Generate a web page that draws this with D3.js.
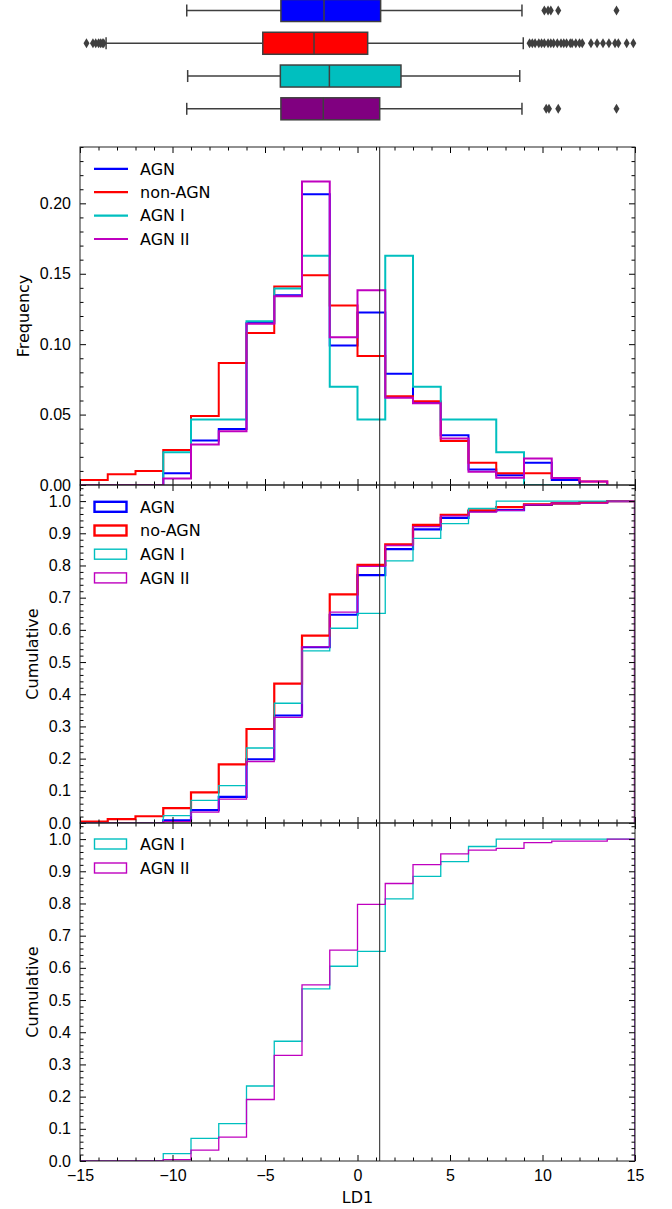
<!DOCTYPE html>
<html>
<head>
<meta charset="utf-8">
<script src="https://cdn.jsdelivr.net/npm/d3@7"></script>
<style>
  body { margin: 0; background: #fff; }
  svg { display: block; font-family: "DejaVu Sans", sans-serif; }
  .tick text { font-size: 16px; fill: #000; }
  .tick line { stroke: #000; stroke-width: 1; }
</style>
</head>
<body>
<svg id="chart"></svg>
<script>
// ---- data ----
const categories = ["AGN", "non-AGN", "AGN I", "AGN II"];
const binEdges = [-15, -13.5, -12, -10.5, -9, -7.5, -6, -4.5, -3, -1.5, 0,
                  1.5, 3, 4.5, 6, 7.5, 9, 10.5, 12, 13.5, 15];
const cutLD1 = 1.2;

// frequency histogram (bins -15 .. 13.5)
const freqAGN    = [0, 0, 0, 0.0083, 0.0316, 0.0397, 0.115, 0.1348, 0.2065, 0.099, 0.1225, 0.079, 0.0585, 0.0354, 0.011, 0.007, 0.0158, 0.0035, 0];
const freqNonAGN = [0.0035, 0.0076, 0.0099, 0.0248, 0.049, 0.0866, 0.108, 0.141, 0.149, 0.1275, 0.0916, 0.063, 0.0595, 0.0312, 0.0158, 0.0083, 0.0083, 0.005, 0.0024];
const freqAGN1   = [0, 0, 0, 0.0233, 0.0465, 0.0465, 0.1163, 0.1395, 0.1628, 0.0698, 0.0465, 0.1628, 0.0698, 0.0465, 0.0465, 0.0233, 0, 0, 0];
const freqAGN2   = [0, 0, 0, 0.0047, 0.0288, 0.0382, 0.1145, 0.134, 0.2155, 0.105, 0.1383, 0.062, 0.058, 0.033, 0.0094, 0.0052, 0.0189, 0.005, 0.0024];

// cumulative (bins -15 .. 15)
const cumAGN    = [0, 0, 0, 0.008, 0.040, 0.081, 0.198, 0.334, 0.546, 0.647, 0.770, 0.851, 0.912, 0.948, 0.969, 0.972, 0.988, 0.993, 0.996, 1.0];
const cumNonAGN = [0.004, 0.012, 0.021, 0.046, 0.095, 0.182, 0.292, 0.433, 0.582, 0.710, 0.802, 0.866, 0.926, 0.957, 0.971, 0.981, 0.990, 0.993, 0.996, 1.0];
const cumAGN1   = [0, 0, 0, 0.023, 0.070, 0.116, 0.233, 0.372, 0.535, 0.605, 0.651, 0.814, 0.884, 0.930, 0.977, 1, 1, 1, 1, 1];
const cumAGN2   = [0, 0, 0, 0.004, 0.034, 0.074, 0.191, 0.328, 0.547, 0.655, 0.797, 0.862, 0.921, 0.954, 0.966, 0.971, 0.989, 0.994, 0.994, 1.0];

// box plots
const boxLow    = [-9.23, -13.59, -9.18, -9.23];
const boxQ1     = [-4.14, -5.12, -4.17, -4.14];
const boxMedian = [-1.81, -2.35, -1.52, -1.85];
const boxQ3     = [1.25, 0.55, 2.35, 1.2];
const boxHigh   = [8.89, 8.96, 8.77, 8.89];
const outAGN    = [10.1, 10.3, 10.45, 10.85, 14.0];
const outNonAGN = [-14.65, -14.3, -14.15, -14.0, -13.9, -13.8, -13.72,
                   9.3, 9.45, 9.6, 9.8, 9.95, 10.1, 10.3, 10.45, 10.6, 10.8, 11.0, 11.15,
                   11.3, 11.5, 11.6, 11.8, 12.0, 12.15, 12.62, 12.95, 13.27, 13.59, 13.92,
                   14.1, 14.55, 14.91];
const outAGN1   = [];
const outAGN2   = [10.2, 10.35, 10.85, 14.0];

const xTicks = [-15, -10, -5, 0, 5, 10, 15];
const freqTicks = [0, 0.05, 0.10, 0.15, 0.20];
const cumTicks = [0, 0.1, 0.2, 0.3, 0.4, 0.5, 0.6, 0.7, 0.8, 0.9, 1.0];

// ---- layout ----
const width = 672, height = 1209;
const left = 80, right = 635;
const fontSize = "16px";
const lineColors = {"AGN": "#0000ff", "non-AGN": "#ff0000", "AGN I": "#00bfbf", "AGN II": "#bf00bf"};
const boxColors = ["#0000ff", "#ff0000", "#00bfbf", "#800080"];
const edgeGray = "#3f3f3f";

const svg = d3.select("#chart").attr("width", width).attr("height", height);

const x = d3.scaleLinear().domain([-15, 15]).range([left, right]);

// ---- box plots ----
const yBox = d3.scalePoint().domain(categories).range([10.5, 108.8]);
const boxH = 22, capH = 12;
const outliers = [outAGN, outNonAGN, outAGN1, outAGN2];

categories.forEach((c, i) => {
    const g = svg.append("g");
    const cy = yBox(c);
    g.append("line")
        .attr("x1", x(boxLow[i])).attr("x2", x(boxQ1[i]))
        .attr("y1", cy).attr("y2", cy)
        .attr("stroke", edgeGray).attr("stroke-width", 1.5);
    g.append("line")
        .attr("x1", x(boxQ3[i])).attr("x2", x(boxHigh[i]))
        .attr("y1", cy).attr("y2", cy)
        .attr("stroke", edgeGray).attr("stroke-width", 1.5);
    [boxLow[i], boxHigh[i]].forEach(v => {
        g.append("line")
            .attr("x1", x(v)).attr("x2", x(v))
            .attr("y1", cy - capH / 2).attr("y2", cy + capH / 2)
            .attr("stroke", edgeGray).attr("stroke-width", 1.5);
    });
    g.append("rect")
        .attr("x", x(boxQ1[i])).attr("y", cy - boxH / 2)
        .attr("width", x(boxQ3[i]) - x(boxQ1[i])).attr("height", boxH)
        .attr("fill", boxColors[i]).attr("stroke", edgeGray).attr("stroke-width", 1.5);
    g.append("line")
        .attr("x1", x(boxMedian[i])).attr("x2", x(boxMedian[i]))
        .attr("y1", cy - boxH / 2).attr("y2", cy + boxH / 2)
        .attr("stroke", edgeGray).attr("stroke-width", 1.5);
    g.selectAll(".flier")
        .data(outliers[i])
        .enter()
        .append("path")
        .attr("class", "flier")
        .attr("d", "M0,-5L3,0L0,5L-3,0Z")
        .attr("transform", d => `translate(${x(d)},${cy})`)
        .attr("fill", edgeGray);
});

// ---- panels ----
function stepPoints(edges, values) {
    const pts = [[edges[0], 0]];
    values.forEach((v, i) => {
        pts.push([edges[i], v]);
        pts.push([edges[i + 1], v]);
    });
    pts.push([edges[values.length], 0]);
    return pts;
}

let clipId = 0;
function drawPanel(opt) {
    const y = d3.scaleLinear().domain(opt.yDomain).range([opt.bottom, opt.top]);
    const g = svg.append("g");
    const id = "clip" + (clipId++);
    svg.append("clipPath").attr("id", id)
        .append("rect")
        .attr("x", left).attr("y", opt.top)
        .attr("width", right - left).attr("height", opt.bottom - opt.top);

    const plot = g.append("g").attr("clip-path", `url(#${id})`);
    const line = d3.line().x(d => x(d[0])).y(d => y(d[1]));

    opt.series.forEach(s => {
        plot.append("path")
            .attr("d", line(stepPoints(opt.edges, s.values)))
            .attr("fill", "none")
            .attr("stroke", lineColors[s.key])
            .attr("stroke-width", s.width);
    });

    plot.append("line")
        .attr("x1", x(cutLD1)).attr("x2", x(cutLD1))
        .attr("y1", opt.top).attr("y2", opt.bottom)
        .attr("stroke", "#222").attr("stroke-width", 1);

    // ticks (inward on all four sides)
    const xMinor = d3.range(-15, 15.01, 1).filter(v => v % 5 !== 0);
    const yMinor = d3.range(opt.yDomain[0], opt.yDomain[1] + 1e-9, opt.minorStep)
        .filter(v => !opt.yTicks.some(t => Math.abs(t - v) < 1e-9));

    g.append("g")
        .attr("transform", `translate(0,${opt.bottom})`)
        .call(d3.axisBottom(x).tickValues(xTicks).tickSize(-6).tickPadding(9)
            .tickFormat(opt.showX ? d3.format("d") : ""));
    g.append("g").attr("transform", `translate(0,${opt.bottom})`)
        .call(d3.axisBottom(x).tickValues(xMinor).tickSize(-3.5).tickFormat(""));
    g.append("g").attr("transform", `translate(0,${opt.top})`)
        .call(d3.axisTop(x).tickValues(xTicks).tickSize(-6).tickFormat(""));
    g.append("g").attr("transform", `translate(0,${opt.top})`)
        .call(d3.axisTop(x).tickValues(xMinor).tickSize(-3.5).tickFormat(""));

    g.append("g").attr("transform", `translate(${left},0)`)
        .call(d3.axisLeft(y).tickValues(opt.yTicks).tickSize(-6).tickPadding(9)
            .tickFormat(d3.format(opt.yFormat)));
    g.append("g").attr("transform", `translate(${left},0)`)
        .call(d3.axisLeft(y).tickValues(yMinor).tickSize(-3.5).tickFormat(""));
    g.append("g").attr("transform", `translate(${right},0)`)
        .call(d3.axisRight(y).tickValues(opt.yTicks).tickSize(-6).tickFormat(""));
    g.append("g").attr("transform", `translate(${right},0)`)
        .call(d3.axisRight(y).tickValues(yMinor).tickSize(-3.5).tickFormat(""));

    g.selectAll(".domain").remove();

    g.append("rect")
        .attr("x", left).attr("y", opt.top)
        .attr("width", right - left).attr("height", opt.bottom - opt.top)
        .attr("fill", "none").attr("stroke", "#222").attr("stroke-width", 1);

    // y label
    g.append("text")
        .attr("transform", `translate(${opt.ylabelX},${(opt.top + opt.bottom) / 2}) rotate(-90)`)
        .attr("text-anchor", "middle")
        .attr("dy", "0.35em")
        .style("font-size", fontSize)
        .text(opt.ylabel);

    // legend
    const lg = g.append("g");
    opt.legend.forEach((item, i) => {
        const ly = opt.legendTop + i * opt.legendStep;
        if (opt.legendType === "line") {
            lg.append("line")
                .attr("x1", 94).attr("x2", 128)
                .attr("y1", ly).attr("y2", ly)
                .attr("stroke", lineColors[item.key]).attr("stroke-width", item.width);
        } else {
            lg.append("rect")
                .attr("x", 94.5).attr("y", ly - 5)
                .attr("width", 32).attr("height", 10)
                .attr("fill", "none")
                .attr("stroke", lineColors[item.key]).attr("stroke-width", item.width);
        }
        lg.append("text")
            .attr("x", 140).attr("y", ly)
            .attr("dy", "0.36em")
            .style("font-size", fontSize)
            .text(item.label);
    });
    return y;
}

const histEdges = binEdges.slice(0, freqAGN.length + 1);

drawPanel({
    top: 147, bottom: 485, yDomain: [0, 0.24], yTicks: freqTicks, minorStep: 0.01,
    yFormat: ".2f", showX: false, edges: histEdges,
    series: [
        {key: "AGN", values: freqAGN, width: 2},
        {key: "non-AGN", values: freqNonAGN, width: 2},
        {key: "AGN I", values: freqAGN1, width: 2},
        {key: "AGN II", values: freqAGN2, width: 2}
    ],
    legendType: "line", legendTop: 168.8, legendStep: 23.4,
    legend: [
        {key: "AGN", label: "AGN", width: 2.2},
        {key: "non-AGN", label: "non-AGN", width: 2.2},
        {key: "AGN I", label: "AGN I", width: 2.2},
        {key: "AGN II", label: "AGN II", width: 2.2}
    ],
    ylabel: "Frequency", ylabelX: 23
});

drawPanel({
    top: 485, bottom: 823, yDomain: [0, 1.05], yTicks: cumTicks, minorStep: 0.02,
    yFormat: ".1f", showX: false, edges: binEdges,
    series: [
        {key: "AGN", values: cumAGN, width: 2.2},
        {key: "non-AGN", values: cumNonAGN, width: 2.2},
        {key: "AGN I", values: cumAGN1, width: 1.3},
        {key: "AGN II", values: cumAGN2, width: 1.3}
    ],
    legendType: "patch", legendTop: 506.8, legendStep: 23.7,
    legend: [
        {key: "AGN", label: "AGN", width: 2.4},
        {key: "non-AGN", label: "no-AGN", width: 2.4},
        {key: "AGN I", label: "AGN I", width: 1.4},
        {key: "AGN II", label: "AGN II", width: 1.4}
    ],
    ylabel: "Cumulative", ylabelX: 32
});

drawPanel({
    top: 823, bottom: 1161, yDomain: [0, 1.05], yTicks: cumTicks, minorStep: 0.02,
    yFormat: ".1f", showX: true, edges: binEdges,
    series: [
        {key: "AGN I", values: cumAGN1, width: 1.3},
        {key: "AGN II", values: cumAGN2, width: 1.3}
    ],
    legendType: "patch", legendTop: 844, legendStep: 24,
    legend: [
        {key: "AGN I", label: "AGN I", width: 1.4},
        {key: "AGN II", label: "AGN II", width: 1.4}
    ],
    ylabel: "Cumulative", ylabelX: 32
});

svg.append("text")
    .attr("x", (left + right) / 2).attr("y", 1197)
    .attr("text-anchor", "middle")
    .attr("dy", "0.35em")
    .style("font-size", fontSize)
    .text("LD1");
</script>
</body>
</html>
